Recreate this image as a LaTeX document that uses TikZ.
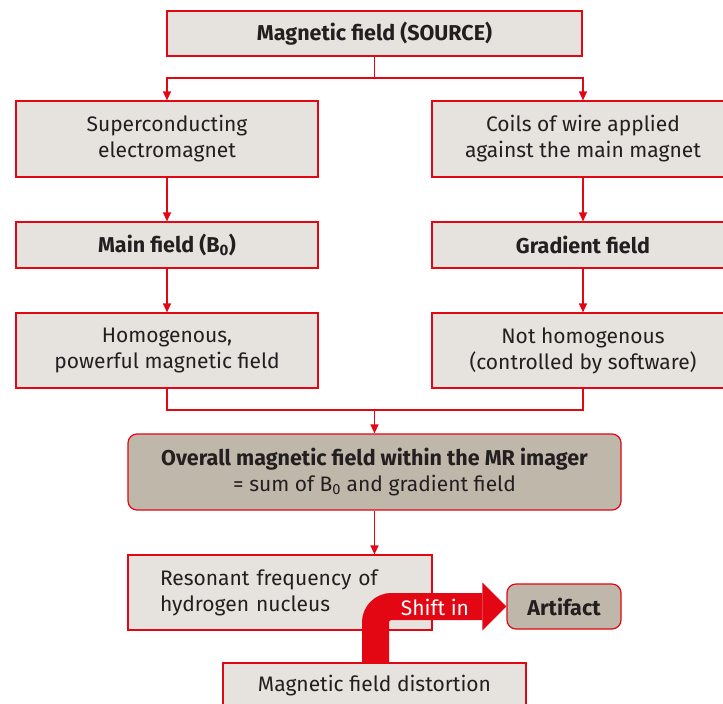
\documentclass[tikz,border=0pt]{standalone}
\usepackage{fontspec}
\setmainfont{Fira Sans}
\usetikzlibrary{arrows.meta}
\definecolor{boxred}{HTML}{E30613}
\definecolor{boxfill}{HTML}{E6E2DD}
\definecolor{taupe}{HTML}{BFB7A9}
\definecolor{ink}{HTML}{231F20}
\newcommand{\bfset}{\fontsize{21.5}{26}\selectfont\bfseries}
\begin{document}
\begin{tikzpicture}[x=1pt,y=-1pt,
 every node/.style={font=\fontsize{21}{26}\selectfont, text=ink, align=center, inner sep=0pt},
 flatbox/.style={draw=boxred, fill=boxfill, line width=1.2pt},
 roundbox/.style={draw=boxred, fill=taupe, line width=1.2pt, rounded corners=9pt},
 link/.style={draw=boxred, line width=1.2pt},
 tipped/.style={-{Triangle[length=9pt,width=8pt]}},
 bigarrow/.style={draw=boxred, line width=27pt, rounded corners=16pt, -{Triangle[length=24pt,width=48pt,line width=0pt]}}]
\useasboundingbox (0,0) rectangle (723,704);
\clip (0,0) rectangle (723,704);
\node[flatbox, minimum width=415pt, minimum height=45pt] (src) at (374.5,33.5) {\bfset Magnetic field (SOURCE)};
\node[flatbox, minimum width=302pt, minimum height=76pt] (sc) at (167,139) {Superconducting\\electromagnet};
\node[flatbox, minimum width=302pt, minimum height=76pt] (coil) at (583,139) {Coils of wire applied\\against the main magnet};
\node[flatbox, minimum width=302pt, minimum height=46pt] (main) at (167,245) {\bfset Main field (B\textsubscript{0})};
\node[flatbox, minimum width=302pt, minimum height=46pt] (grad) at (583,245) {\bfset Gradient field};
\node[flatbox, minimum width=302pt, minimum height=75pt] (homo) at (167,350.5) {Homogenous,\\powerful magnetic field};
\node[flatbox, minimum width=302pt, minimum height=75pt] (nothomo) at (583,350.5) {Not homogenous\\(controlled by software)};
\node[roundbox, minimum width=493pt, minimum height=76pt] (overall) at (374.5,472) {{\bfset Overall magnetic field within the MR imager}\\= sum of B\textsubscript{0} and gradient field};
\node[flatbox, minimum width=304pt, minimum height=75pt, text width=240pt, inner xsep=32pt, align=left] (res) at (280,592.5) {Resonant frequency of\\hydrogen nucleus};
\node[roundbox, minimum width=114pt, minimum height=45pt] (art) at (564,606.5) {\bfset Artifact};
\node[flatbox, minimum width=303pt, minimum height=46pt] (dist) at (374.5,686) {Magnetic field distortion};
\coordinate (j1) at (374.5,78);
\coordinate (j2) at (374.5,410);
\draw[link] (src.south) -- (j1);
\draw[link,tipped] (j1) -| (sc.north);
\draw[link,tipped] (j1) -| (coil.north);
\draw[link,tipped] (sc) -- (main);
\draw[link,tipped] (main) -- (homo);
\draw[link,tipped] (coil) -- (grad);
\draw[link,tipped] (grad) -- (nothomo);
\draw[link] (homo.south) |- (j2) -| (nothomo.south);
\draw[link,tipped] (j2) -- (overall.north);
\draw[link,tipped] (overall.south) -- (overall.south |- res.north);
\draw[bigarrow] ([xshift=1pt]dist.north) |- (art.west);
\node[text=white] (shift) at (435,607) {Shift in};
\end{tikzpicture}
\end{document}
